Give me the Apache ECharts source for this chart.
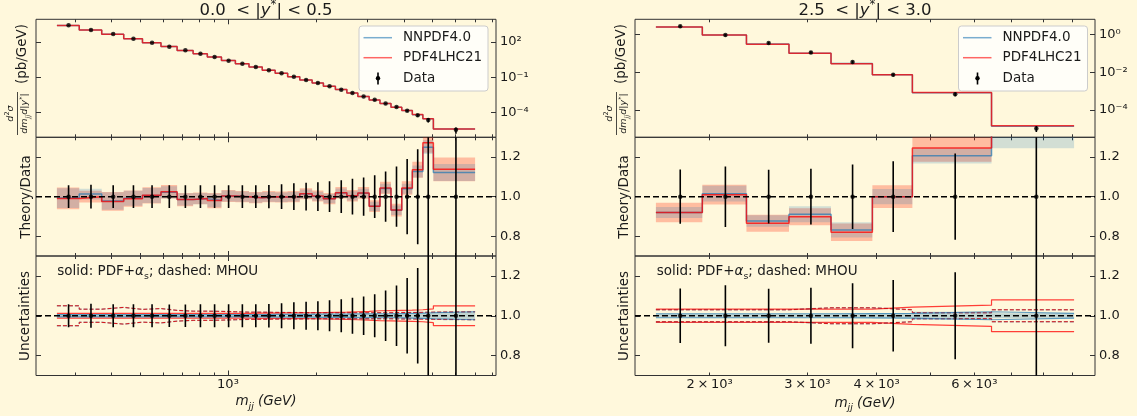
<!DOCTYPE html>
<html>
<head>
<meta charset="utf-8">
<script src="https://cdn.jsdelivr.net/npm/echarts@6.0.0/dist/echarts.min.js"></script>
<style>
html,body{margin:0;padding:0;background:#fff8dc;}
#chart{width:1137px;height:416px;}
</style>
</head>
<body>
<div id="chart"></div>
<script>
// ---------- 0.0 < |y*| < 0.5 ----------
const edgesLow = [260, 310, 370, 440, 510, 590, 670, 760, 850, 950, 1060, 1180, 1310, 1450, 1600, 1760, 1940, 2120, 2330, 2550, 2780, 3040, 3310, 3610, 3930, 4270, 4640, 5040, 7000];
const xsecLow = [2630, 1050, 479, 191, 87, 39.8, 19.5, 10.0, 5.25, 2.57, 1.41, 0.74, 0.39, 0.214, 0.110, 0.0575, 0.0316, 0.0166, 0.0085, 0.0045, 0.0022, 0.00115, 5.5e-4, 2.9e-4, 1.38e-4, 5.6e-5, 2.2e-5, 3.3e-6];
const errLow = [0.058, 0.06, 0.058, 0.058, 0.058, 0.057, 0.057, 0.058, 0.058, 0.058, 0.058, 0.058, 0.059, 0.0625, 0.068, 0.07, 0.0725, 0.078, 0.083, 0.09, 0.097, 0.108, 0.127, 0.152, 0.19, 0.24, 0.40, 0.55];
const ratioNNLow = [0.993, 1.013, 0.978, 0.992, 1.006, 1.022, 0.986, 0.990, 0.981, 1.003, 1.000, 0.995, 0.999, 0.997, 0.999, 1.013, 1.002, 0.990, 1.018, 1.004, 1.017, 0.951, 1.041, 0.931, 1.040, 1.127, 1.250, 1.122];
const ratioP4Low = [0.991, 1.000, 0.976, 0.990, 1.007, 1.025, 0.985, 0.991, 0.980, 1.003, 1.000, 0.995, 1.000, 0.998, 1.000, 1.015, 1.003, 0.990, 1.020, 1.005, 1.019, 0.952, 1.044, 0.932, 1.044, 1.136, 1.272, 1.138];
const bandNNLow = [0.05, 0.027, 0.044, 0.038, 0.038, 0.031, 0.031, 0.028, 0.035, 0.028, 0.026, 0.026, 0.025, 0.024, 0.024, 0.023, 0.023, 0.023, 0.023, 0.023, 0.023, 0.023, 0.024, 0.024, 0.025, 0.03, 0.035, 0.043];
const bandP4Low = [0.055, 0.03, 0.047, 0.041, 0.041, 0.034, 0.034, 0.03, 0.039, 0.03, 0.028, 0.028, 0.028, 0.028, 0.028, 0.028, 0.028, 0.028, 0.029, 0.029, 0.03, 0.03, 0.031, 0.032, 0.034, 0.04, 0.05, 0.06];
const pdfNNLow = [0.006, 0.006, 0.006, 0.006, 0.006, 0.006, 0.006, 0.006, 0.006, 0.006, 0.006, 0.006, 0.007, 0.007, 0.007, 0.007, 0.008, 0.008, 0.008, 0.009, 0.009, 0.01, 0.01, 0.011, 0.012, 0.013, 0.015, 0.02];
const pdfP4Low = [0.012, 0.012, 0.012, 0.012, 0.012, 0.012, 0.012, 0.012, 0.012, 0.012, 0.012, 0.013, 0.013, 0.014, 0.014, 0.015, 0.016, 0.017, 0.018, 0.02, 0.022, 0.025, 0.026, 0.027, 0.028, 0.03, 0.035, 0.05];
const mhouLow = [0.05, 0.033, 0.042, 0.032, 0.036, 0.027, 0.023, 0.023, 0.022, 0.02, 0.018, 0.018, 0.017, 0.016, 0.016, 0.015, 0.015, 0.015, 0.015, 0.015, 0.015, 0.015, 0.015, 0.016, 0.016, 0.017, 0.018, 0.02];

// ---------- 2.5 < |y*| < 3.0 ----------
const edgesHigh = [1600, 1940, 2330, 2780, 3310, 3930, 4640, 6445, 9080];
const xsecHigh = [2.63, 0.91, 0.347, 0.110, 0.034, 0.0072, 6.8e-4, 1.05e-5];
const errHigh = [0.137, 0.153, 0.136, 0.141, 0.163, 0.179, 0.218, 0.35];
const ratioNNHigh = [0.920, 1.015, 0.877, 0.911, 0.832, 1.000, 1.207, 1.32];
const ratioP4High = [0.920, 1.010, 0.865, 0.898, 0.820, 1.000, 1.246, 1.40];
const bandNNHigh = [0.028, 0.04, 0.029, 0.041, 0.039, 0.039, 0.04, 0.075];
const bandP4High = [0.049, 0.05, 0.043, 0.043, 0.044, 0.057, 0.07, 0.08];
const pdfNNHigh = [0.01, 0.01, 0.01, 0.01, 0.011, 0.012, 0.02, 0.012];
const pdfP4High = [0.033, 0.033, 0.033, 0.033, 0.033, 0.043, 0.053, 0.08];
const mhouHigh = [0.03, 0.03, 0.03, 0.04, 0.04, 0.03, 0.015, 0.03];

// ---------- axis ticks ----------
const ticksRatio = [0.8, 1.0, 1.2];
const ticksXsecLow = [1e-4, 1e-1, 1e2];
const ticksXsecHigh = [1e-4, 1e-2, 1];
const xMajorLow = [1000];
const xMinorLow = [300, 400, 500, 600, 700, 800, 900, 2000, 3000, 4000, 5000, 6000, 7000, 8000];
const xLabelsLow = [1000];
const xMajorHigh = [];
const xMinorHigh = [2000, 3000, 4000, 5000, 6000, 7000, 8000, 9000];
const xLabelsHigh = [2000, 3000, 4000, 6000];

const FONT = 'DejaVu Sans';
const INK = '#1a1a1a';
const SPINE = '#333333';
const LINE_BLUE = 'rgba(31,119,180,0.7)';
const LINE_RED = 'rgba(255,0,0,0.75)';
const FILL_BLUE = 'rgba(31,119,180,0.2)';
const FILL_RED = 'rgba(255,30,0,0.27)';

const SUP = {'0':'⁰','1':'¹','2':'²','3':'³','4':'⁴','5':'⁵','6':'⁶','7':'⁷','8':'⁸','9':'⁹','-':'⁻'};
const sup = s => String(s).split('').map(c => SUP[c] || c).join('');
const pow10Label = v => '10' + sup(Math.round(Math.log10(v)));
const mantLabel = v => {
  const e = Math.floor(Math.log10(v) + 1e-9);
  const m = Math.round(v / Math.pow(10, e));
  return m === 1 ? '10' + sup(e) : m + '\u2009×\u200910' + sup(e);
};

function logPad(edges) {
  const a = Math.log10(edges[0]), b = Math.log10(edges[edges.length - 1]);
  const m = 0.05 * (b - a);
  return [Math.pow(10, a - m), Math.pow(10, b + m)];
}
const centers = e => e.slice(0, -1).map((v, i) => (v + e[i + 1]) / 2);

const panels = [
  { left: 36, edges: edgesLow, xsec: xsecLow, err: errLow, rNN: ratioNNLow, rP4: ratioP4Low,
    bNN: bandNNLow, bP4: bandP4Low, pNN: pdfNNLow, pP4: pdfP4Low, mhou: mhouLow,
    yLog: [Math.pow(10, -6.134), Math.pow(10, 3.937)], yTicks: ticksXsecLow,
    xMajor: xMajorLow, xMinor: xMinorLow, xLabels: xLabelsLow },
  { left: 635, edges: edgesHigh, xsec: xsecHigh, err: errHigh, rNN: ratioNNHigh, rP4: ratioP4High,
    bNN: bandNNHigh, bP4: bandP4High, pNN: pdfNNHigh, pP4: pdfP4High, mhou: mhouHigh,
    yLog: [Math.pow(10, -5.443), Math.pow(10, 0.793)], yTicks: ticksXsecHigh,
    xMajor: xMajorHigh, xMinor: xMinorHigh, xLabels: xLabelsHigh }
];
const rows = [{ top: 19.3, height: 118 }, { top: 137.3, height: 118.7 }, { top: 256, height: 119.5 }];
const PANEL_W = 460;

const grid = [], xAxis = [], yAxis = [], series = [];

function tickStyle(len) {
  return { inside: true, length: len, lineStyle: { color: SPINE, width: 1 } };
}
function labelStyle(extra) {
  return Object.assign({ color: INK, fontFamily: FONT, fontSize: 13 }, extra);
}

function stepLine(xi, yi, edges, vals, color, width, dashed, z) {
  const data = edges.map((e, i) => [e, vals[Math.min(i, vals.length - 1)]]);
  return { type: 'line', xAxisIndex: xi, yAxisIndex: yi, data, step: 'end', showSymbol: false, symbol: 'none',
    silent: true, z, animation: false,
    lineStyle: { color, width, type: dashed ? [4, 2] : 'solid' } };
}
function bandPolygon(xi, yi, edges, lo, hi, fill, z) {
  return { type: 'custom', xAxisIndex: xi, yAxisIndex: yi, clip: true, z, silent: true, animation: false,
    data: [[edges[0], lo[0]]],
    renderItem(params, api) {
      const pts = [];
      for (let i = 0; i < lo.length; i++) { pts.push(api.coord([edges[i], hi[i]])); pts.push(api.coord([edges[i + 1], hi[i]])); }
      for (let i = lo.length - 1; i >= 0; i--) { pts.push(api.coord([edges[i + 1], lo[i]])); pts.push(api.coord([edges[i], lo[i]])); }
      return { type: 'polygon', shape: { points: pts }, style: { fill } };
    } };
}
function errBars(xi, yi, xs, lo, hi, z) {
  return { type: 'custom', xAxisIndex: xi, yAxisIndex: yi, clip: true, z, silent: true, animation: false,
    data: xs.map((c, i) => [c, lo[i], hi[i]]),
    encode: { x: 0, y: [1, 2] },
    renderItem(params, api) {
      const a = api.coord([api.value(0), api.value(1)]);
      const b = api.coord([api.value(0), api.value(2)]);
      return { type: 'line', shape: { x1: a[0], y1: a[1], x2: b[0], y2: b[1] }, style: { stroke: '#000', lineWidth: 1.6 } };
    } };
}
function points(xi, yi, xs, ys, z) {
  return { type: 'scatter', xAxisIndex: xi, yAxisIndex: yi, data: xs.map((c, i) => [c, ys[i]]),
    symbol: 'circle', symbolSize: 4.5, itemStyle: { color: '#000' }, silent: true, z, animation: false };
}
function unityLine(xi, yi, xr, z) {
  return { type: 'line', xAxisIndex: xi, yAxisIndex: yi, data: [[xr[0], 1], [xr[1], 1]], showSymbol: false, symbol: 'none',
    silent: true, z, animation: false, lineStyle: { color: '#000', width: 1.5, type: [6, 3] } };
}

panels.forEach((p, pi) => {
  const xr = logPad(p.edges);
  const mids = centers(p.edges);
  rows.forEach((r, ri) => {
    const g = grid.length;
    grid.push({ left: p.left, top: r.top, width: PANEL_W, height: r.height, show: true,
      borderColor: SPINE, borderWidth: 1, backgroundColor: 'transparent', containLabel: false, outerBoundsMode: 'none' });
    const xb = xAxis.length;
    const bottomRow = ri === 2;
    const xBase = { type: 'log', gridIndex: g, min: xr[0], max: xr[1], axisLine: { show: false }, splitLine: { show: false } };
    // major ticks (bottom), minor ticks (bottom), major (top), minor (top)
    xAxis.push(Object.assign({}, xBase, { position: 'bottom',
      axisTick: Object.assign({ show: p.xMajor.length > 0, customValues: p.xMajor }, tickStyle(5)),
      axisLabel: (bottomRow && pi === 0) ? labelStyle({ customValues: p.xLabels, formatter: pow10Label, margin: 3 }) : { show: false } }));
    xAxis.push(Object.assign({}, xBase, { position: 'bottom',
      axisTick: Object.assign({ customValues: p.xMinor }, tickStyle(3)),
      axisLabel: (bottomRow && pi === 1) ? labelStyle({ customValues: p.xLabels, formatter: mantLabel, margin: 3 }) : { show: false } }));
    xAxis.push(Object.assign({}, xBase, { position: 'top',
      axisTick: Object.assign({ show: p.xMajor.length > 0, customValues: p.xMajor }, tickStyle(5)), axisLabel: { show: false } }));
    xAxis.push(Object.assign({}, xBase, { position: 'top',
      axisTick: Object.assign({ customValues: p.xMinor }, tickStyle(3)), axisLabel: { show: false } }));

    const yb = yAxis.length;
    const yBase = ri === 0
      ? { type: 'log', min: p.yLog[0], max: p.yLog[1], ticks: p.yTicks, fmt: pow10Label }
      : { type: 'value', min: 0.7, max: 1.3, ticks: ticksRatio, fmt: v => v.toFixed(1) };
    yAxis.push({ type: yBase.type, gridIndex: g, position: 'right', min: yBase.min, max: yBase.max,
      axisLine: { show: false }, splitLine: { show: false },
      axisTick: Object.assign({ customValues: yBase.ticks }, tickStyle(5)),
      axisLabel: labelStyle({ customValues: yBase.ticks, formatter: yBase.fmt, margin: 4 }) });
    yAxis.push({ type: yBase.type, gridIndex: g, position: 'left', min: yBase.min, max: yBase.max,
      axisLine: { show: false }, splitLine: { show: false },
      axisTick: Object.assign({ customValues: yBase.ticks }, tickStyle(5)), axisLabel: { show: false } });

    if (ri === 0) {
      const thNN = p.xsec.map((v, i) => v * p.rNN[i]);
      const thP4 = p.xsec.map((v, i) => v * p.rP4[i]);
      series.push(stepLine(xb, yb, p.edges, thNN, LINE_BLUE, 1.5, false, 2));
      series.push(stepLine(xb, yb, p.edges, thP4, LINE_RED, 1.5, false, 3));
      series.push(errBars(xb, yb, mids, p.xsec.map((v, i) => v * (1 - p.err[i])), p.xsec.map((v, i) => v * (1 + p.err[i])), 5));
      series.push(points(xb, yb, mids, p.xsec, 6));
    } else if (ri === 1) {
      series.push(bandPolygon(xb, yb, p.edges, p.rP4.map((v, i) => v - p.bP4[i]), p.rP4.map((v, i) => v + p.bP4[i]), FILL_RED, 1));
      series.push(bandPolygon(xb, yb, p.edges, p.rNN.map((v, i) => v - p.bNN[i]), p.rNN.map((v, i) => v + p.bNN[i]), FILL_BLUE, 1));
      series.push(stepLine(xb, yb, p.edges, p.rNN, LINE_BLUE, 1.5, false, 2));
      series.push(stepLine(xb, yb, p.edges, p.rP4, LINE_RED, 1.5, false, 3));
      series.push(unityLine(xb, yb, xr, 4));
      series.push(errBars(xb, yb, mids, p.err.map(e => 1 - e), p.err.map(e => 1 + e), 5));
      series.push(points(xb, yb, mids, mids.map(() => 1), 6));
    } else {
      // NNPDF4.0 PDF band, PDF4LHC21 PDF lines, shared MHOU dashed lines
      series.push(bandPolygon(xb, yb, p.edges, p.pNN.map(u => 1 - u), p.pNN.map(u => 1 + u), 'rgba(31,119,180,0.28)', 1));
      series.push(stepLine(xb, yb, p.edges, p.pP4.map(u => 1 + u), LINE_RED, 1.2, false, 2));
      series.push(stepLine(xb, yb, p.edges, p.pP4.map(u => 1 - u), LINE_RED, 1.2, false, 2));
      series.push(stepLine(xb, yb, p.edges, p.mhou.map(u => 1 + u), 'rgba(31,119,180,0.45)', 1.4, true, 3));
      series.push(stepLine(xb, yb, p.edges, p.mhou.map(u => 1 - u), 'rgba(31,119,180,0.45)', 1.4, true, 3));
      series.push(stepLine(xb, yb, p.edges, p.mhou.map(u => 1 + u), 'rgba(225,0,0,0.9)', 1, true, 3));
      series.push(stepLine(xb, yb, p.edges, p.mhou.map(u => 1 - u), 'rgba(225,0,0,0.9)', 1, true, 3));
      series.push(stepLine(xb, yb, p.edges, p.pNN.map(u => 1 + u), LINE_BLUE, 1.2, false, 3));
      series.push(stepLine(xb, yb, p.edges, p.pNN.map(u => 1 - u), LINE_BLUE, 1.2, false, 3));
      series.push(unityLine(xb, yb, xr, 4));
      series.push(errBars(xb, yb, mids, p.err.map(e => 1 - e), p.err.map(e => 1 + e), 5));
      series.push(points(xb, yb, mids, mids.map(() => 1), 6));
    }
  });
});

// ---------- text elements ----------
const richBase = (size) => ({
  n: { fontSize: size, fontFamily: FONT, fill: INK, lineHeight: size * 1.35 },
  i: { fontSize: size, fontFamily: FONT, fontStyle: 'italic', fill: INK, lineHeight: size * 1.35 },
  s: { fontSize: size * 0.7, fontFamily: FONT, fill: INK, verticalAlign: 'top', lineHeight: size * 0.75 },
  si: { fontSize: size * 0.7, fontFamily: FONT, fontStyle: 'italic', fill: INK, verticalAlign: 'top', lineHeight: size * 0.75 },
  b: { fontSize: size * 0.7, fontFamily: FONT, fill: INK, verticalAlign: 'bottom', lineHeight: size * 0.75 },
  bi: { fontSize: size * 0.7, fontFamily: FONT, fontStyle: 'italic', fill: INK, verticalAlign: 'bottom', lineHeight: size * 0.75 }
});
function richText(x, y, text, size, align, vAlign, rotation) {
  return { type: 'text', x, y, rotation: rotation || 0, silent: true,
    style: { text, rich: richBase(size), align: align || 'center', verticalAlign: vAlign || 'middle',
      fontSize: size, fontFamily: FONT, fill: INK } };
}
function plainText(x, y, text, size, align, rotation) {
  return { type: 'text', x, y, rotation: rotation || 0, silent: true,
    style: { text, fontSize: size, fontFamily: FONT, fill: INK, align: align || 'center', verticalAlign: 'middle' } };
}
function xsecLabel(x) {
  return [
    { type: 'group', x: x, y: 113.5, rotation: Math.PI / 2, silent: true, children: [
      richText(0, -0.5, '{i|d}{s|2}{i|σ}', 9.5, 'center', 'bottom'),
      { type: 'line', shape: { x1: -21.5, y1: 0, x2: 21.5, y2: 0 }, style: { stroke: INK, lineWidth: 0.8 } },
      richText(0, 1, '{i|dm}{bi|jj}{i|d}{n||}{i|y}{s|*}{n||}', 9.5, 'center', 'top')
    ] },
    plainText(x + 4.5, 54, '(pb/GeV)', 13.5, 'center', Math.PI / 2)
  ];
}
function legend(x0, y0) {
  return { type: 'group', x: x0, y: y0, silent: true, children: [
    { type: 'rect', shape: { x: 0, y: 0, width: 129, height: 65, r: 3 }, style: { fill: 'rgba(255,255,255,0.8)', stroke: '#cccccc', lineWidth: 1 } },
    { type: 'line', shape: { x1: 4.5, y1: 11.7, x2: 33, y2: 11.7 }, style: { stroke: 'rgba(31,119,180,0.6)', lineWidth: 1.5 } },
    { type: 'line', shape: { x1: 4.5, y1: 31.7, x2: 33, y2: 31.7 }, style: { stroke: 'rgba(255,0,0,0.6)', lineWidth: 1.5 } },
    { type: 'line', shape: { x1: 19, y1: 46.5, x2: 19, y2: 58.5 }, style: { stroke: '#000', lineWidth: 1.6 } },
    { type: 'circle', shape: { cx: 19, cy: 52.3, r: 2.2 }, style: { fill: '#000' } },
    plainText(44, 11.7, 'NNPDF4.0', 13.5, 'left'),
    plainText(44, 31.7, 'PDF4LHC21', 13.5, 'left'),
    plainText(44, 52.3, 'Data', 13.5, 'left')
  ] };
}

const graphic = [
  richText(266, 10.5, '{n|0.0  < |}{i|y}{s|*}{n|| < 0.5}', 16.5),
  richText(865, 10.5, '{n|2.5  < |}{i|y}{s|*}{n|| < 3.0}', 16.5),
  ...xsecLabel(17.5),
  ...xsecLabel(616.5),
  plainText(26, 197, 'Theory/Data', 13.5, 'center', Math.PI / 2),
  plainText(624, 197, 'Theory/Data', 13.5, 'center', Math.PI / 2),
  plainText(25.5, 316, 'Uncertainties', 13.5, 'center', Math.PI / 2),
  plainText(624, 316, 'Uncertainties', 13.5, 'center', Math.PI / 2),
  richText(57.3, 271.7, '{n|solid: PDF+}{i|α}{b|s}{n|; dashed: MHOU}', 13.5, 'left'),
  richText(656.7, 271.7, '{n|solid: PDF+}{i|α}{b|s}{n|; dashed: MHOU}', 13.5, 'left'),
  richText(266, 401.5, '{i|m}{bi|jj}{i| (GeV)}', 13.5),
  richText(865, 403, '{i|m}{bi|jj}{i| (GeV)}', 13.5),
  legend(359, 26),
  legend(958.5, 26)
];

const chart = echarts.init(document.getElementById('chart'), null, { renderer: 'canvas' });
chart.setOption({ backgroundColor: '#fff8dc', animation: false, grid, xAxis, yAxis, series, graphic });
</script>
</body>
</html>
